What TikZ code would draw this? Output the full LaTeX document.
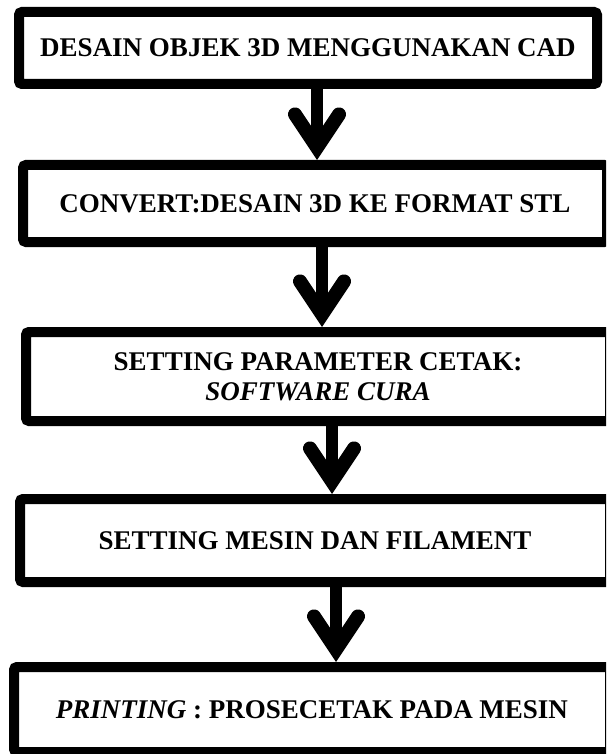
\documentclass[tikz,border=0pt]{standalone}
\usepackage{fontspec}
\setmainfont{Liberation Serif}
\newcommand{\flowdraw}[4]{%
  \draw[flow] ([xshift=#3]#1.south) -- ([xshift=#4]#2.north);
}
\usetikzlibrary{
  arrows.meta,
  positioning
}

\begin{document}
\begin{tikzpicture}[x=1pt, y=1pt]

\tikzset{
  stepbox/.style={
    draw,
    rectangle,
    rounded corners=3pt,
    fill=white,
    line width=10pt,
    align=center,
    font=\fontsize{27}{30}\selectfont\bfseries
  },
  flow/.style={
    line width=12pt,
    -{Straight Barb[length=33pt, width=44pt, line width=2pt 1, line cap=round, line join=miter]}
  }
}

\useasboundingbox (0,0) rectangle (606,-754);
\clip (0,0) rectangle (606,-754);

% NODES ----------------------------------------------------------

\node[stepbox, minimum width=578pt, minimum height=72pt] (desain)  at (308,-48)    {DESAIN OBJEK 3D MENGGUNAKAN CAD};
\node[stepbox, minimum width=584pt, minimum height=77pt] (convert) at (315,-203.5) {CONVERT:DESAIN 3D KE FORMAT STL};
\node[stepbox, minimum width=584pt, minimum height=89pt] (param)   at (318,-376.5) {SETTING PARAMETER CETAK: \\ \textit{SOFTWARE CURA}};
\node[stepbox, minimum width=590pt, minimum height=83pt] (mesin)   at (315,-540.5) {SETTING MESIN DAN FILAMENT};
\node[stepbox, minimum width=596pt, minimum height=85pt] (printing) at (312,-709.5) {\textit{PRINTING} : PROSECETAK PADA MESIN};

% DRAWS ---------------------------------------------------------

\flowdraw{desain}{convert}{9pt}{2pt}
\flowdraw{convert}{param}{7pt}{4pt}
\flowdraw{param}{mesin}{14pt}{17pt}
\flowdraw{mesin}{printing}{21pt}{24pt}

\end{tikzpicture}
\end{document}
